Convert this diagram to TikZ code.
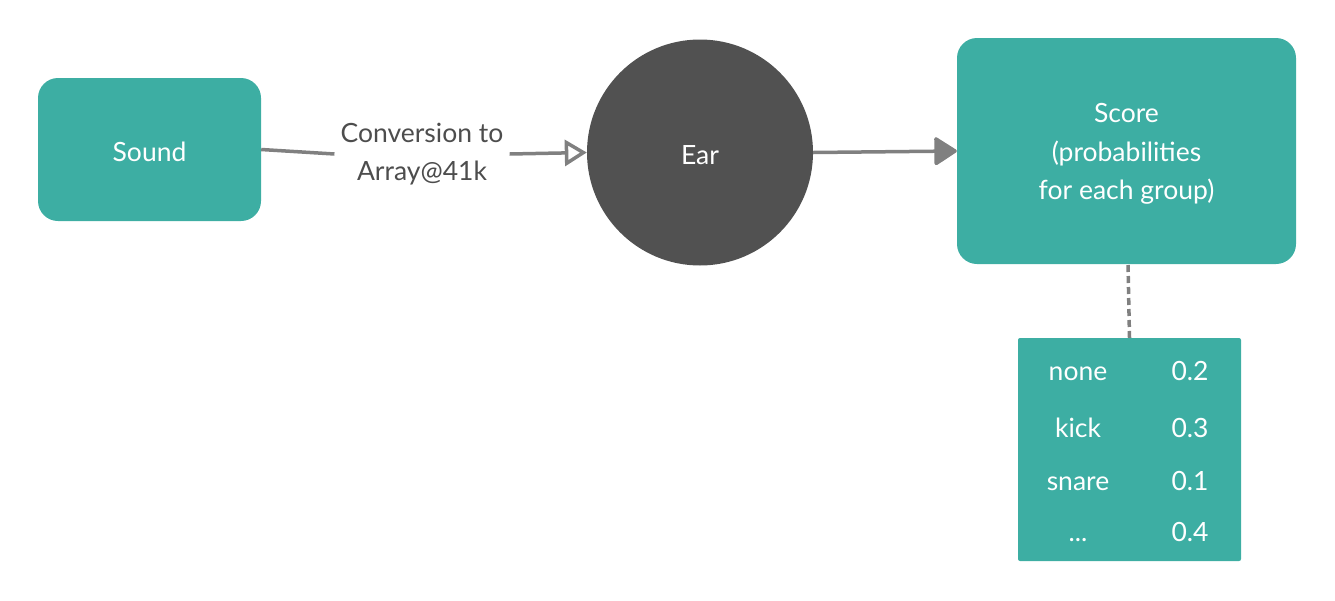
\documentclass[tikz,border=0pt]{standalone}
\usepackage{fontspec}
\setmainfont{Lato}
\usetikzlibrary{arrows.meta}
\definecolor{boxteal}{HTML}{3DAEA3}
\definecolor{eargray}{HTML}{515151}
\definecolor{linegray}{HTML}{808080}
\definecolor{labelgray}{HTML}{4D4D4D}
\tikzset{
  box/.style={fill=boxteal, rounded corners=20pt, text=white, align=center, inner sep=0pt},
  txt/.style={font=\fontsize{26.5}{38.5}\selectfont},
  conn/.style={draw=linegray, line width=3.5pt},
  cell/.style={txt, text=white, anchor=base},
}
\begin{document}
\begin{tikzpicture}[x=1pt,y=-1pt]
\useasboundingbox (0,0) rectangle (1335,600);
\node[box, minimum width=223pt, minimum height=143pt] (sound) at (149.5,149.5) {};
\node[txt, text=white, inner sep=0pt] (soundtxt) at (149.5,152) {Sound};
\node[circle, fill=eargray, minimum size=226pt, inner sep=0pt] (ear) at (700,152.5) {};
\node[txt, text=white, inner sep=0pt] (eartxt) at (700,155) {Ear};
\node[box, minimum width=339pt, minimum height=226pt] (score) at (1126.5,151) {};
\node[txt, text=white, align=center, inner sep=0pt] (scoretxt) at (1126.5,154) {Score\\(probabilities\\for each group)};
\node[fill=boxteal, rounded corners=2pt, minimum width=223pt, minimum height=223pt, inner sep=0pt] (table) at (1129.5,449.5) {};
\node[txt, text=labelgray, align=center, fill=white, inner xsep=6pt, inner ysep=2pt] (lab) at (422,154) {Conversion to\\Array@41k};
\draw[conn] (sound.east) -- (lab.west);
\draw[conn, -{Triangle[open, length=22pt, width=26pt]}] (lab.east) -- (ear.west);
\draw[conn, -{Triangle[length=24pt, width=30pt, round]}] (ear.east) -- (score.west);
\coordinate (d1) at (1128,265);
\draw[conn, dash pattern=on 7pt off 4pt] (d1) -- (table.north);
\node[cell] (na) at (1078,380) {none};
\node[cell] (va) at (1190,380) {0.2};
\node[cell] (nb) at (1078,437) {kick};
\node[cell] (vb) at (1190,437) {0.3};
\node[cell] (nc) at (1078,490) {snare};
\node[cell] (vc) at (1190,490) {0.1};
\node[cell] (nd) at (1078,541) {...};
\node[cell] (vd) at (1190,541) {0.4};
\end{tikzpicture}
\end{document}
